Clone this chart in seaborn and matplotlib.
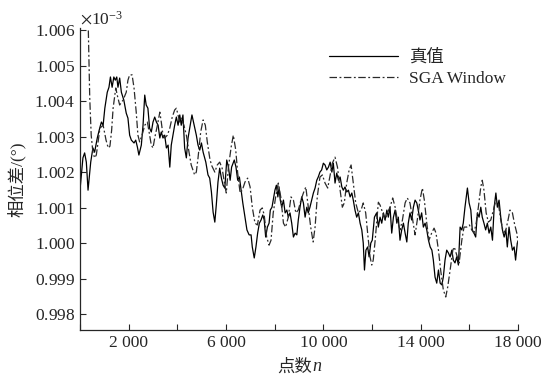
import numpy as np
import pandas as pd
import matplotlib
matplotlib.use("Agg")
import matplotlib.pyplot as plt
import matplotlib.ticker as mticker
import seaborn as sns

# ---- data (values in units of 1e-3) ----
true_n = [0, 120, 190, 260, 330, 440, 530, 600, 710, 810, 880, 950, 1020, 1120, 1190, 1250,
          1320, 1390, 1450, 1510, 1560, 1630, 1700, 1800, 1900, 1970, 2040, 2110, 2220, 2290,
          2360, 2420, 2520, 2590, 2660, 2720, 2790, 2860, 2930, 3000, 3070, 3140, 3210, 3280,
          3340, 3410, 3480, 3550, 3620, 3690, 3750, 3820, 3890, 3960, 4030, 4100, 4160, 4230,
          4300, 4370, 4440, 4510, 4600, 4690, 4780, 4850, 4920, 4990, 5060, 5170, 5260, 5330,
          5400, 5470, 5540, 5600, 5670, 5740, 5810, 5880, 5950, 6030, 6100, 6170, 6230, 6340,
          6410, 6480, 6550, 6620, 6690, 6780, 6860, 6950, 7030, 7080, 7160, 7230, 7300, 7370,
          7440, 7510, 7570, 7630, 7700, 7770, 7820, 7890, 7960, 8010, 8070, 8130, 8180, 8230,
          8290, 8360, 8430, 8500, 8560, 8630, 8700, 8770, 8840, 8910, 8970, 9040, 9110, 9180,
          9250, 9320, 9380, 9450, 9520, 9590, 9660, 9730, 9790, 9860, 9930, 10000, 10070, 10140,
          10210, 10280, 10350, 10410, 10480, 10550, 10620, 10690, 10760, 10820, 10890, 10960,
          11030, 11100, 11170, 11230, 11300, 11370, 11440, 11510, 11580, 11640, 11690, 11750,
          11820, 11880, 11950, 12010, 12100, 12190, 12260, 12330, 12400, 12470, 12540, 12610,
          12670, 12740, 12810, 12880, 12950, 13020, 13080, 13150, 13220, 13290, 13360, 13430,
          13490, 13560, 13630, 13700, 13770, 13840, 13900, 13970, 14040, 14110, 14180, 14250,
          14320, 14390, 14460, 14520, 14590, 14660, 14730, 14800, 14870, 14930, 15000, 15070,
          15140, 15210, 15280, 15340, 15410, 15480, 15550, 15620, 15690, 15750, 15820, 15920,
          15990, 16060, 16120, 16190, 16260, 16330, 16400, 16470, 16530, 16600, 16670, 16740,
          16810, 16880, 16950, 17020, 17090, 17150, 17220, 17290, 17360, 17430, 17500, 17560,
          17630, 17700, 17770, 17840, 17900, 17970, 18000]
true_v = [1.00150, 1.00240, 1.00254, 1.00228, 1.00149, 1.00228, 1.00268, 1.00256, 1.00296,
          1.00324, 1.00341, 1.00332, 1.00380, 1.00425, 1.00439, 1.00468, 1.00439, 1.00468,
          1.00459, 1.00468, 1.00439, 1.00465, 1.00425, 1.00403, 1.00366, 1.00352, 1.00304,
          1.00290, 1.00282, 1.00290, 1.00270, 1.00248, 1.00276, 1.00332, 1.00417, 1.00389,
          1.00380, 1.00324, 1.00313, 1.00341, 1.00355, 1.00341, 1.00332, 1.00296, 1.00313,
          1.00296, 1.00304, 1.00268, 1.00276, 1.00214, 1.00276, 1.00304, 1.00332, 1.00355,
          1.00332, 1.00361, 1.00332, 1.00361, 1.00268, 1.00240, 1.00296, 1.00324, 1.00361,
          1.00332, 1.00304, 1.00276, 1.00262, 1.00282, 1.00256, 1.00228, 1.00192, 1.00183,
          1.00144, 1.00087, 1.00059, 1.00107, 1.00172, 1.00211, 1.00183, 1.00163, 1.00155,
          1.00234, 1.00214, 1.00177, 1.00214, 1.00234, 1.00214, 1.00177, 1.00186, 1.00149,
          1.00113, 1.00073, 1.00037, 1.00023, 1.00023, 0.99989, 0.99958, 0.99989, 1.00028,
          1.00056, 1.00065, 1.00079, 1.00065, 1.00017, 1.00045, 1.00056, 1.00093, 1.00101,
          1.00130, 1.00149, 1.00163, 1.00130, 1.00155, 1.00121, 1.00101, 1.00121, 1.00085,
          1.00093, 1.00073, 1.00085, 1.00056, 1.00017, 1.00028, 1.00023, 1.00065, 1.00101,
          1.00130, 1.00113, 1.00073, 1.00101, 1.00085, 1.00101, 1.00121, 1.00141, 1.00155,
          1.00177, 1.00186, 1.00200, 1.00206, 1.00225, 1.00220, 1.00206, 1.00214, 1.00228,
          1.00200, 1.00225, 1.00169, 1.00197, 1.00177, 1.00186, 1.00158, 1.00149, 1.00158,
          1.00144, 1.00149, 1.00130, 1.00141, 1.00121, 1.00093, 1.00073, 1.00085, 1.00056,
          1.00037, 1.00000, 0.99924, 0.99980, 0.99989, 0.99961, 1.00000, 1.00008, 1.00073,
          1.00085, 1.00045, 1.00073, 1.00056, 1.00085, 1.00065, 1.00093, 1.00073, 1.00101,
          1.00028, 1.00073, 1.00093, 1.00056, 1.00073, 1.00008, 1.00037, 1.00056, 1.00028,
          1.00003, 1.00056, 1.00085, 1.00065, 1.00101, 1.00121, 1.00113, 1.00093, 1.00065,
          1.00085, 1.00045, 1.00056, 1.00037, 1.00008, 0.99989, 0.99980, 0.99952, 0.99904,
          0.99887, 0.99924, 0.99887, 0.99882, 0.99904, 0.99952, 0.99980, 0.99972, 0.99961,
          0.99980, 0.99952, 0.99944, 0.99961, 0.99938, 1.00045, 1.00037, 1.00056, 1.00101,
          1.00155, 1.00113, 1.00093, 1.00037, 1.00028, 1.00017, 1.00085, 1.00073, 1.00101,
          1.00073, 1.00056, 1.00037, 1.00056, 1.00028, 1.00045, 1.00008, 1.00101, 1.00141,
          1.00101, 1.00121, 1.00073, 1.00037, 1.00017, 1.00037, 0.99989, 1.00045, 1.00008,
          0.99980, 0.99989, 0.99952, 1.00000, 1.00005]

sga_n = [290, 340, 400, 460, 530, 600, 670, 820, 950, 1070, 1160, 1230, 1300, 1360, 1470,
         1530, 1630, 1770, 1900, 1970, 2040, 2140, 2220, 2310, 2380, 2450, 2550, 2660, 2770,
         2840, 2930, 3000, 3070, 3180, 3280, 3340, 3410, 3480, 3590, 3690, 3790, 3890, 3960,
         4030, 4100, 4160, 4270, 4370, 4480, 4570, 4710, 4780, 4850, 4960, 5060, 5150, 5230,
         5330, 5400, 5540, 5640, 5740, 5840, 5950, 6010, 6100, 6210, 6300, 6400, 6480, 6580,
         6670, 6780, 6890, 6990, 7080, 7190, 7290, 7400, 7490, 7570, 7670, 7770, 7850, 7940,
         8040, 8150, 8250, 8360, 8450, 8560, 8670, 8770, 8870, 8970, 9080, 9180, 9280, 9380,
         9480, 9580, 9660, 9750, 9860, 9960, 10070, 10180, 10280, 10370, 10480, 10580, 10690,
         10780, 10860, 10960, 11060, 11140, 11230, 11330, 11440, 11550, 11640, 11740, 11820,
         11920, 11990, 12050, 12130, 12260, 12330, 12440, 12540, 12630, 12740, 12850, 12950,
         13040, 13150, 13250, 13360, 13450, 13560, 13670, 13770, 13860, 13970, 14070, 14150,
         14250, 14340, 14450, 14550, 14630, 14730, 14820, 14930, 15030, 15110, 15210, 15320,
         15380, 15480, 15580, 15690, 15780, 15890, 16000, 16100, 16190, 16280, 16370, 16470,
         16530, 16600, 16690, 16780, 16880, 16990, 17090, 17190, 17290, 17400, 17500, 17590,
         17670, 17770, 17850, 17950, 18000]
sga_v = [1.00680, 1.00606, 1.00409, 1.00304, 1.00256, 1.00240, 1.00248, 1.00324, 1.00332,
         1.00290, 1.00268, 1.00273, 1.00318, 1.00380, 1.00437, 1.00417, 1.00389, 1.00403,
         1.00425, 1.00459, 1.00474, 1.00474, 1.00437, 1.00369, 1.00304, 1.00285, 1.00304,
         1.00332, 1.00341, 1.00313, 1.00276, 1.00268, 1.00296, 1.00332, 1.00369, 1.00341,
         1.00304, 1.00296, 1.00304, 1.00324, 1.00355, 1.00375, 1.00380, 1.00361, 1.00341,
         1.00352, 1.00332, 1.00304, 1.00256, 1.00220, 1.00192, 1.00200, 1.00240, 1.00313,
         1.00347, 1.00332, 1.00285, 1.00240, 1.00220, 1.00200, 1.00220, 1.00228, 1.00211,
         1.00163, 1.00141, 1.00214, 1.00270, 1.00304, 1.00262, 1.00197, 1.00141, 1.00149,
         1.00172, 1.00183, 1.00158, 1.00101, 1.00056, 1.00051, 1.00093, 1.00099, 1.00079,
         1.00017, 0.99994, 1.00008, 1.00085, 1.00130, 1.00169, 1.00130, 1.00056, 1.00045,
         1.00073, 1.00130, 1.00121, 1.00085, 1.00093, 1.00121, 1.00141, 1.00158, 1.00101,
         1.00045, 1.00003, 1.00045, 1.00130, 1.00186, 1.00192, 1.00169, 1.00155, 1.00192,
         1.00225, 1.00242, 1.00214, 1.00149, 1.00101, 1.00113, 1.00169, 1.00206, 1.00220,
         1.00169, 1.00113, 1.00085, 1.00093, 1.00113, 1.00085, 1.00028, 0.99961, 0.99938,
         0.99952, 1.00008, 1.00115, 1.00107, 1.00085, 1.00065, 1.00085, 1.00101, 1.00127,
         1.00101, 1.00065, 1.00037, 1.00065, 1.00113, 1.00127, 1.00113, 1.00065, 1.00023,
         1.00065, 1.00121, 1.00155, 1.00121, 1.00056, 1.00008, 1.00028, 1.00042, 1.00028,
         0.99980, 0.99924, 0.99868, 0.99848, 0.99876, 0.99924, 0.99980, 0.99989, 0.99966,
         0.99944, 1.00008, 1.00045, 1.00045, 1.00051, 1.00037, 1.00028, 1.00056, 1.00101,
         1.00158, 1.00177, 1.00149, 1.00085, 1.00059, 1.00065, 1.00093, 1.00121, 1.00113,
         1.00065, 1.00028, 1.00037, 1.00065, 1.00093, 1.00085, 1.00056, 1.00028, 1.00000]

labels = ["真值", "SGA Window"]
x_ticks = [2000, 6000, 10000, 14000, 18000]
y_scale = 1e-3

df = pd.concat([
    pd.DataFrame({"n": true_n, "v": np.array(true_v) * y_scale, "series": labels[0]}),
    pd.DataFrame({"n": sga_n, "v": np.array(sga_v) * y_scale, "series": labels[1]}),
], ignore_index=True)

sns.set_style("ticks")
plt.rcParams["font.family"] = ["Liberation Serif", "Noto Sans CJK SC"]
plt.rcParams["mathtext.fontset"] = "stix"
plt.rcParams["axes.unicode_minus"] = True

fig = plt.figure(figsize=(5.45, 3.77), dpi=100)
ax = fig.add_axes([0.1468, 0.1247, 0.8037, 0.801])

sns.lineplot(data=df, x="n", y="v", hue="series", style="series",
             palette={labels[0]: "#000000", labels[1]: "#2a2a2a"},
             dashes={labels[0]: "", labels[1]: (6, 2, 1.5, 2)},
             estimator=None, sort=False, linewidth=0.9, ax=ax)

ax.set_xlim(0, 18000)
ax.set_ylim(0.99755e-3, 1.00606e-3)
ax.xaxis.set_major_locator(mticker.FixedLocator(x_ticks))
ax.xaxis.set_minor_locator(mticker.MultipleLocator(2000))
ax.xaxis.set_major_formatter(mticker.FuncFormatter(lambda x, p: f"{x:,.0f}".replace(",", " ")))
ax.yaxis.set_major_locator(mticker.MultipleLocator(1e-6))
ax.ticklabel_format(axis="y", style="sci", scilimits=(0, 0), useOffset=False, useMathText=True)
ax.tick_params(axis="both", which="both", direction="in", labelsize=12.5, width=0.8)
ax.tick_params(axis="both", which="major", length=4)
ax.tick_params(axis="x", which="minor", length=4)
ax.yaxis.get_offset_text().set_fontsize(12.5)

for s in ["top", "right"]:
    ax.spines[s].set_visible(False)
for s in ["left", "bottom"]:
    ax.spines[s].set_linewidth(0.9)

xl = ax.set_xlabel("点数", fontsize=12.5, labelpad=6)
xl.set_x(0.49)
ax.annotate("n", xy=(1, 0), xycoords=xl, ha="left", va="bottom",
            fontsize=13, fontstyle="italic", family="Liberation Serif")
ax.set_ylabel("相位差/(°)", fontsize=12.5, labelpad=6)

leg = ax.legend(loc="upper left", bbox_to_anchor=(0.568, 0.93), frameon=False,
                fontsize=12.5, handlelength=4.0, handletextpad=0.6, labelspacing=0.3,
                borderpad=0, borderaxespad=0)
for line in leg.get_lines():
    line.set_linewidth(0.9)

fig.savefig("out.png", dpi=100)
